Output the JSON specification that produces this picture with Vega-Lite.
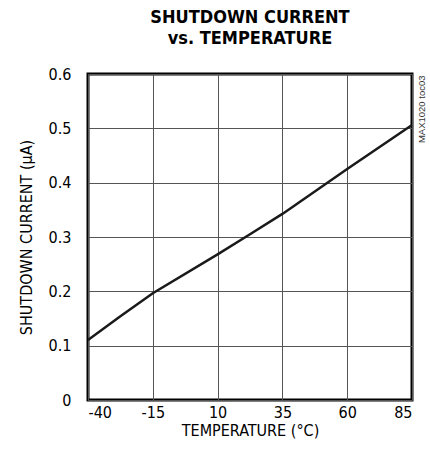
{
  "$schema": "https://vega.github.io/schema/vega-lite/v6.json",
  "width": 324,
  "height": 326,
  "autosize": {"type": "none"},
  "padding": {"left": 88, "top": 74, "right": 18, "bottom": 58},
  "background": "white",
  "title": {
    "text": ["SHUTDOWN CURRENT", "vs. TEMPERATURE"],
    "anchor": "middle",
    "font": "DejaVu Sans Condensed, sans-serif",
    "fontWeight": "bold",
    "fontSize": 18,
    "lineHeight": 21,
    "offset": 18,
    "color": "#000"
  },
  "config": {
    "view": {"stroke": "#000", "strokeWidth": 3},
    "axis": {
      "labelFont": "DejaVu Sans Condensed, sans-serif",
      "titleFont": "DejaVu Sans Condensed, sans-serif",
      "labelFontSize": 16,
      "titleFontSize": 16,
      "titleFontWeight": "normal",
      "labelColor": "#000",
      "titleColor": "#000",
      "ticks": false,
      "domain": false,
      "gridColor": "#555",
      "gridWidth": 1,
      "gridOpacity": 1
    }
  },
  "data": {
    "values": [
      {"temp": -40, "current": 0.1105},
      {"temp": -27.5, "current": 0.154},
      {"temp": -15, "current": 0.1965},
      {"temp": 10, "current": 0.268},
      {"temp": 22.5, "current": 0.305},
      {"temp": 35, "current": 0.3425},
      {"temp": 60, "current": 0.425},
      {"temp": 85, "current": 0.506}
    ]
  },
  "layer": [
    {
      "mark": {"type": "line", "color": "#1a1a1a", "strokeWidth": 2.5},
      "encoding": {
        "x": {
          "field": "temp",
          "type": "quantitative",
          "scale": {"domain": [-40, 85], "nice": false, "zero": false},
          "axis": {
            "values": [-40, -15, 10, 35, 60, 85],
            "labelExpr": "'' + datum.value",
            "title": "TEMPERATURE (°C)",
            "labelPadding": 4,
            "titlePadding": 2,
            "grid": true
          }
        },
        "y": {
          "field": "current",
          "type": "quantitative",
          "scale": {"domain": [0, 0.6], "nice": false},
          "axis": {
            "values": [0, 0.1, 0.2, 0.3, 0.4, 0.5, 0.6],
            "labelExpr": "'' + datum.value",
            "title": "SHUTDOWN CURRENT (μA)",
            "labelPadding": 17,
            "titlePadding": 14,
            "grid": true
          }
        }
      }
    },
    {
      "mark": {"type": "line", "opacity": 0},
      "encoding": {
        "x": {"field": "temp", "type": "quantitative"},
        "y": {
          "field": "current",
          "type": "quantitative",
          "axis": {
            "orient": "right",
            "labels": false,
            "grid": false,
            "title": "MAX1020 toc03",
            "titleFont": "Liberation Sans, sans-serif",
            "titleFontSize": 9.5,
            "titleColor": "#333",
            "titleAngle": 270,
            "titleX": 9,
            "titleY": 1,
            "titleAlign": "right",
            "titleBaseline": "middle"
          }
        }
      }
    }
  ],
  "resolve": {"axis": {"y": "independent"}}
}
